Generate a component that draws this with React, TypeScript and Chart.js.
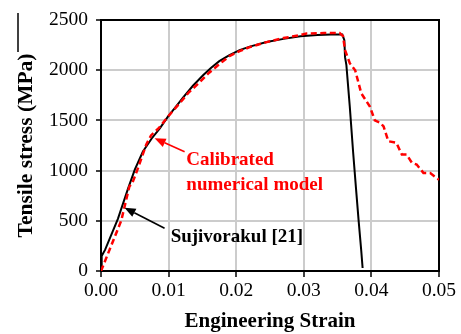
import React, { useEffect, useRef } from "react";
import { Chart, registerables } from "chart.js";

Chart.register(...registerables);

// Sujivorakul [21] experimental curve
const expStrain = [0, 0.0001, 0.0003, 0.0006, 0.0025, 0.0040, 0.0050, 0.0062, 0.0075, 0.0087, 0.0099, 0.0110, 0.0121, 0.0136, 0.0151, 0.0163, 0.0175, 0.0190, 0.0205, 0.0220, 0.0245, 0.0270, 0.0295, 0.0320, 0.0340, 0.0357, 0.0360, 0.0361, 0.0363, 0.0368, 0.0373, 0.0377, 0.0381, 0.0385, 0.0387];
const expStress = [60, 150, 175, 210, 520, 820, 1010, 1190, 1320, 1420, 1537, 1630, 1725, 1845, 1950, 2025, 2090, 2150, 2200, 2235, 2280, 2312, 2337, 2350, 2355, 2355, 2300, 2130, 2050, 1640, 1180, 840, 510, 200, 30];

// Calibrated numerical model curve
const numStrain = [0, 0.0015, 0.0030, 0.0042, 0.0046, 0.0055, 0.0067, 0.0074, 0.0085, 0.0100, 0.0115, 0.0130, 0.0146, 0.0160, 0.0175, 0.0190, 0.0205, 0.0220, 0.0245, 0.0270, 0.0295, 0.0304, 0.0330, 0.0353, 0.0358, 0.0361, 0.0368, 0.0376, 0.0385, 0.0398, 0.0405, 0.0413, 0.0418, 0.0425, 0.0437, 0.0445, 0.0452, 0.0460, 0.0467, 0.0477, 0.0487, 0.0500];
const numStress = [0, 250, 503, 843, 870, 1030, 1260, 1350, 1420, 1545, 1660, 1780, 1880, 1975, 2060, 2140, 2190, 2230, 2280, 2320, 2350, 2365, 2370, 2370, 2340, 2200, 2070, 2000, 1770, 1635, 1500, 1477, 1440, 1293, 1277, 1160, 1160, 1077, 1060, 977, 975, 910];

const xTicks = [0, 0.01, 0.02, 0.03, 0.04, 0.05];
const yTicks = [0, 500, 1000, 1500, 2000, 2500];

const xTitle = "Engineering Strain";
const yTitle = "Tensile stress (MPa)";
const expLabel = "Sujivorakul [21]";
const numLabel1 = "Calibrated";
const numLabel2 = "numerical model";

// annotation anchors in data units
const numTextAt = { x: 0.01262, y1: 1056, y2: 807 };
const numArrow = { x1: 0.01237, y1: 1188, x2: 0.00793, y2: 1322 };
const expTextAt = { x: 0.0103, y: 292 };
const expArrow = { x1: 0.0094, y1: 425, x2: 0.00348, y2: 630 };

const SERIF = '"Liberation Serif", "Times New Roman", serif';

function drawArrow(ctx: CanvasRenderingContext2D, x1: number, y1: number, x2: number, y2: number, color: string) {
  const ang = Math.atan2(y2 - y1, x2 - x1);
  const hl = 11;
  const hw = 4.5;
  const bx = x2 - hl * Math.cos(ang);
  const by = y2 - hl * Math.sin(ang);
  ctx.save();
  ctx.strokeStyle = color;
  ctx.fillStyle = color;
  ctx.lineWidth = 1.6;
  ctx.beginPath();
  ctx.moveTo(x1, y1);
  ctx.lineTo(bx, by);
  ctx.stroke();
  ctx.beginPath();
  ctx.moveTo(x2, y2);
  ctx.lineTo(bx + hw * Math.sin(ang), by - hw * Math.cos(ang));
  ctx.lineTo(bx - hw * Math.sin(ang), by + hw * Math.cos(ang));
  ctx.closePath();
  ctx.fill();
  ctx.restore();
}

export default function App() {
  const ref = useRef<HTMLCanvasElement | null>(null);

  useEffect(() => {
    if (!ref.current) return;

    const framePlugin = {
      id: "frame",
      beforeDatasetsDraw(chart: any) {
        const { ctx, chartArea: a } = chart;
        ctx.save();
        ctx.strokeStyle = "#000";
        ctx.lineWidth = 2;
        ctx.beginPath();
        ctx.moveTo(a.left, a.top);
        ctx.lineTo(a.right, a.top);
        ctx.lineTo(a.right, a.bottom);
        ctx.stroke();
        ctx.restore();
      },
      afterDraw(chart: any) {
        const { ctx } = chart;
        const xs = chart.scales.x;
        const ys = chart.scales.y;
        const px = (v: number) => xs.getPixelForValue(v);
        const py = (v: number) => ys.getPixelForValue(v);
        ctx.save();
        ctx.font = `bold 19px ${SERIF}`;
        ctx.textBaseline = "alphabetic";
        ctx.textAlign = "left";
        ctx.fillStyle = "#ff0000";
        ctx.fillText(numLabel1, px(numTextAt.x), py(numTextAt.y1));
        ctx.fillText(numLabel2, px(numTextAt.x), py(numTextAt.y2));
        ctx.fillStyle = "#000";
        ctx.fillText(expLabel, px(expTextAt.x), py(expTextAt.y));
        ctx.restore();
        drawArrow(ctx, px(numArrow.x1), py(numArrow.y1), px(numArrow.x2), py(numArrow.y2), "#ff0000");
        drawArrow(ctx, px(expArrow.x1), py(expArrow.y1), px(expArrow.x2), py(expArrow.y2), "#000");
        // stray border line at the left edge of the figure
        ctx.save();
        ctx.strokeStyle = "#000";
        ctx.lineWidth = 1.5;
        ctx.beginPath();
        ctx.moveTo(18, 13);
        ctx.lineTo(18, 52);
        ctx.stroke();
        ctx.restore();
      },
    };

    const chart = new Chart(ref.current, {
      type: "line",
      data: {
        datasets: [
          {
            label: "Calibrated numerical model",
            data: numStrain.map((x, i) => ({ x, y: numStress[i] })),
            borderColor: "#ff0000",
            borderWidth: 2.5,
            borderDash: [6, 3.5],
            pointRadius: 0,
            tension: 0,
            fill: false,
            order: 0,
          },
          {
            label: "Sujivorakul [21]",
            data: expStrain.map((x, i) => ({ x, y: expStress[i] })),
            borderColor: "#000000",
            borderWidth: 2,
            pointRadius: 0,
            tension: 0,
            fill: false,
            order: 1,
          },
        ],
      },
      options: {
        animation: false,
        responsive: false,
        devicePixelRatio: 1,
        layout: { padding: { left: 0, right: 22, top: 20, bottom: 0 } },
        plugins: { legend: { display: false }, tooltip: { enabled: false } },
        scales: {
          x: {
            type: "linear",
            min: 0,
            max: 0.05,
            afterBuildTicks: (s: any) => {
              s.ticks = xTicks.map((v) => ({ value: v }));
            },
            afterFit: (s: any) => {
              s.height = 63;
            },
            ticks: {
              color: "#000",
              font: { family: SERIF, size: 19.5 },
              padding: 2,
              maxRotation: 0,
              autoSkip: false,
              callback: (v: any) => Number(v).toFixed(2),
            },
            grid: { color: "#cccccc", lineWidth: 2, tickColor: "#000", tickLength: 6, tickWidth: 1.5 },
            border: { display: true, color: "#000", width: 2 },
            title: {
              display: true,
              text: xTitle,
              color: "#000",
              font: { family: SERIF, size: 21, weight: "bold" },
              padding: { top: 0, bottom: 0 },
            },
          },
          y: {
            type: "linear",
            min: 0,
            max: 2500,
            afterBuildTicks: (s: any) => {
              s.ticks = yTicks.map((v) => ({ value: v }));
            },
            afterFit: (s: any) => {
              s.width = 101;
            },
            ticks: {
              color: "#000",
              font: { family: SERIF, size: 19.5 },
              padding: 8,
              autoSkip: false,
              callback: (v: any) => String(v),
            },
            grid: { color: "#cccccc", lineWidth: 2, tickColor: "#000", tickLength: 5, tickWidth: 1.5 },
            border: { display: true, color: "#000", width: 2 },
            title: {
              display: true,
              text: yTitle,
              color: "#000",
              font: { family: SERIF, size: 21.5, weight: "bold" },
              padding: { top: 14, bottom: 0 },
            },
          },
        },
      },
      plugins: [framePlugin],
    } as any);

    return () => chart.destroy();
  }, []);

  return (
    <div style={{ position: "absolute", left: 0, top: 0, width: 461, height: 334, background: "#fff" }}>
      <canvas ref={ref} width={461} height={334} style={{ display: "block" }} />
    </div>
  );
}
